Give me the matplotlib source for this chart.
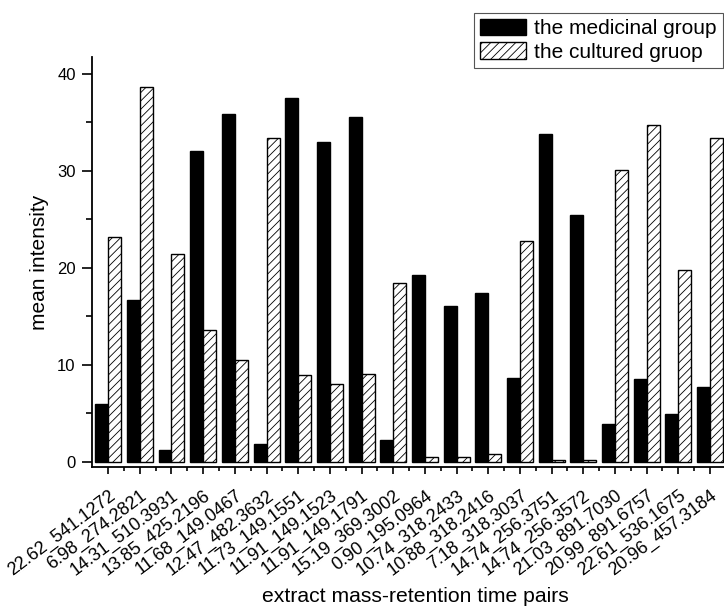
import matplotlib
matplotlib.use('Agg')
import matplotlib.pyplot as plt
import numpy as np
from matplotlib.ticker import MultipleLocator

plt.rcParams['font.family'] = ['Liberation Sans', 'DejaVu Sans']
plt.rcParams['hatch.linewidth'] = 0.6

pairs = ['22.62_541.1272', '6.98_274.2821', '14.31_510.3931', '13.85_425.2196',
         '11.68_149.0467', '12.47_482.3632', '11.73_149.1551', '11.91_149.1523',
         '11.91_149.1791', '15.19_369.3002', '0.90_195.0964', '10.74_318.2433',
         '10.88_318.2416', '7.18_318.3037', '14.74_256.3751', '14.74_256.3572',
         '21.03_891.7030', '20.99_891.6757', '22.61_536.1675', '20.96_457.3184']
medicinal = [5.9, 16.7, 1.2, 32.0, 35.9, 1.8, 37.5, 33.0, 35.5, 2.2,
             19.2, 16.1, 17.4, 8.6, 33.8, 25.4, 3.85, 8.5, 4.9, 7.7]
cultured = [23.2, 38.6, 21.4, 13.6, 10.5, 33.4, 8.9, 8.0, 9.0, 18.4,
            0.5, 0.5, 0.8, 22.8, 0.15, 0.15, 30.1, 34.7, 19.8, 33.4]

fig = plt.figure(figsize=(7.24, 6.07), dpi=100)
ax = fig.add_axes([0.1275, 0.2306, 0.875, 0.675])

x = np.arange(len(pairs))
w = 0.41
ax.bar(x - w / 2, medicinal, w, color='black', edgecolor='black', linewidth=1,
       label='the medicinal group')
ax.bar(x + w / 2, cultured, w, color='white', edgecolor='black', linewidth=1,
       hatch='////', label='the cultured gruop')

ax.set_xlim(-0.5, 19.5)
ax.set_ylim(-0.55, 41.7)
ax.spines['top'].set_visible(False)
ax.spines['right'].set_visible(False)
ax.spines['left'].set_linewidth(1.3)
ax.spines['bottom'].set_linewidth(1.3)

ax.set_xticks(x)
ax.set_xticks(x[:-1] + 0.5, minor=True)
ax.set_xticklabels(pairs, rotation=37, ha='right', va='top', rotation_mode='anchor',
                   fontsize=13)
ax.yaxis.set_major_locator(MultipleLocator(10))
ax.yaxis.set_minor_locator(MultipleLocator(5))
ax.tick_params(axis='y', which='major', length=7, width=1.2, labelsize=12, pad=5)
ax.tick_params(axis='y', which='minor', length=4, width=1.2)
ax.tick_params(axis='x', which='major', length=5, width=1.2, pad=9.5)
ax.tick_params(axis='x', which='minor', length=3, width=1.2)

ax.set_ylabel('mean intensity', fontsize=15, labelpad=6)
ax.set_xlabel('extract mass-retention time pairs', fontsize=15.2, va='baseline')
ax.xaxis.set_label_coords(415 / 724, 1 - 602 / 607, transform=fig.transFigure)

leg = ax.legend(loc='upper left', bbox_to_anchor=(474 / 724, 1 - 12.7 / 607),
                bbox_transform=fig.transFigure, fontsize=15, frameon=True,
                fancybox=False, edgecolor='#555555', framealpha=1,
                borderaxespad=0, borderpad=0.3, handlelength=2.2, handleheight=0.82,
                handletextpad=0.4, labelspacing=0.2)
leg.get_frame().set_linewidth(0.8)

fig.savefig('out.png', dpi=100)
